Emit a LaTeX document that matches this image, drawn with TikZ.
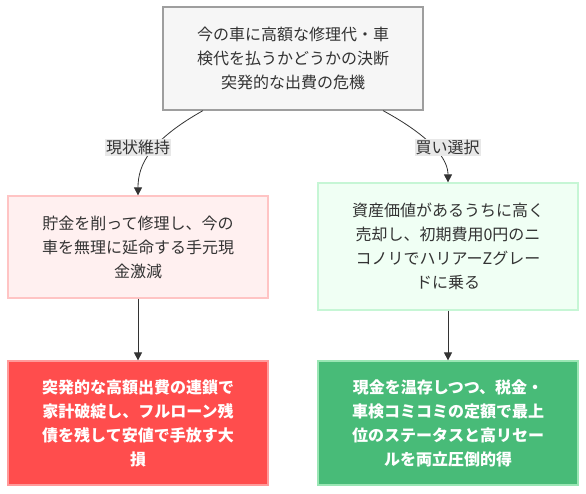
\documentclass[tikz,border=0pt]{standalone}
\usepackage{fontspec}
\setmainfont{Noto Sans CJK JP}
\usepackage{xcolor}
\usetikzlibrary{arrows.meta,positioning,calc}
\definecolor{txt}{HTML}{333333}
\definecolor{topfill}{HTML}{F6F6F6}
\definecolor{topline}{HTML}{9E9E9E}
\definecolor{lblfill}{HTML}{E8E8E8}
\definecolor{pinkfill}{HTML}{FFF0F0}
\definecolor{pinkline}{HTML}{FFC4C4}
\definecolor{mintfill}{HTML}{F0FFF4}
\definecolor{mintline}{HTML}{C6F6D5}
\definecolor{redfill}{HTML}{FF4D4D}
\definecolor{redline}{HTML}{FF9A9A}
\definecolor{grnfill}{HTML}{48BB78}
\definecolor{grnline}{HTML}{9AE6B4}

\begin{document}
\begin{tikzpicture}[x=1pt,y=-1pt,>={Triangle[width=8pt,length=8pt]},
 n/.style={line width=1.2pt,align=center,inner sep=0pt,minimum width=260pt,
   text=txt,font=\fontsize{16}{24}\selectfont},
 w/.style={n,text=white,font=\fontsize{16}{24}\selectfont\bfseries},
 lbl/.style={fill=lblfill,inner sep=1pt,text=txt,font=\fontsize{16}{20}\selectfont},
 e/.style={draw=txt,line width=0.8pt}]
\useasboundingbox (0,0) rectangle (586,494);
\node[n,draw=topline,fill=topfill,minimum height=103pt] (top) at (293,58.5)
 {今の車に高額な修理代・車\\検代を払うかどうかの決断\\突発的な出費の危機};
\node[n,draw=pinkline,fill=pinkfill,minimum height=102pt] (keep) at (138,247)
 {貯金を削って修理し、今の\\車を無理に延命する手元現\\金激減};
\node[n,draw=mintline,fill=mintfill,minimum height=127pt] (buy) at (448,246.5)
 {資産価値があるうちに高く\\売却し、初期費用0円のニ\\コノリでハリアーZグレー\\ドに乗る};
\node[w,draw=redline,fill=redfill,minimum height=124pt] (loss) at (138,423)
 {突発的な高額出費の連鎖で\\家計破綻し、フルローン残\\債を残して安値で手放す大\\損};
\node[w,draw=grnline,fill=grnfill,minimum height=124pt] (gain) at (448,423)
 {現金を温存しつつ、税金・\\車検コミコミの定額で最上\\位のステータスと高リセー\\ルを両立圧倒的得};
% branch labels sit on top of the curves
\coordinate (lk) at (138,147.5);
\coordinate (lb) at (447.5,147.5);
\draw[e,->] ([xshift=-90pt]top.south) .. controls ($(lk)+(12,-7)$) and ($(lk)+(0,17)$) .. (keep.north);
\draw[e,->] ([xshift=90pt]top.south) .. controls ($(lb)+(-15,-10)$) and ($(lb)+(0.5,12)$) .. (buy.north);
\node[lbl] (l1) at (lk) {現状維持};
\node[lbl] (l2) at (lb) {買い選択};
\draw[e,->] (keep) -- (loss);
\draw[e,->] (buy) -- (gain);
\end{tikzpicture}
\end{document}
